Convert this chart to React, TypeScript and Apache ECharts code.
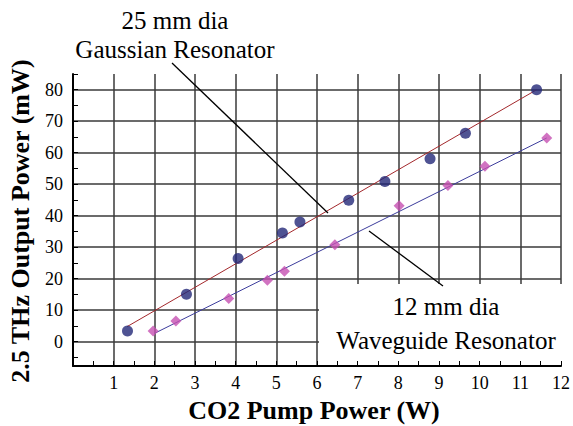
import React, { useEffect, useRef } from "react";
import * as echarts from "echarts";

// 25 mm dia Gaussian resonator (circles)
const gaussX = [1.34, 2.79, 4.06, 5.15, 5.58, 6.78, 7.67, 8.78, 9.65, 11.4];
const gaussY = [3.4, 15.1, 26.4, 34.5, 38.0, 44.9, 50.9, 58.1, 66.2, 80.0];
// 12 mm dia waveguide resonator (diamonds)
const waveX = [1.97, 2.53, 3.83, 4.78, 5.2, 6.44, 8.02, 9.22, 10.13, 11.65];
const waveY = [3.4, 6.6, 13.7, 19.5, 22.4, 30.8, 43.2, 49.6, 55.7, 64.7];
// linear fits (end points)
const gaussFitX = [1.33, 11.4];
const gaussFitY = [4.8, 80.0];
const waveFitX = [2.01, 11.65];
const waveFitY = [2.7, 64.7];

const xMin = 0;
const xMax = 12;
const yMin = -7.7;
const yMax = 85;

const xTitle = "CO2 Pump Power (W)";
const yTitle = "2.5 THz Output Power (mW)";
const topNote = ["25 mm dia", "Gaussian Resonator"];
const bottomNote = ["12 mm dia", "Waveguide Resonator"];

const FONT = "Liberation Serif";

function zip(xs: number[], ys: number[]) {
  return xs.map((x, i) => [x, ys[i]]);
}

function txt(text: string, x: number, y: number, size: number, bold: boolean, rotation = 0) {
  return {
    type: "text",
    z: 6,
    x,
    y,
    rotation,
    style: {
      text,
      fontFamily: FONT,
      fontSize: size,
      fontWeight: bold ? "bold" : "normal",
      fill: "#000",
      textAlign: "center",
      textVerticalAlign: "middle",
    },
  };
}

export default function App() {
  const ref = useRef<HTMLDivElement>(null);
  useEffect(() => {
    if (!ref.current) return;
    const chart = echarts.init(ref.current, null, { renderer: "svg" });
    const gridColor = "#3a3a3a";
    const option: any = {
      animation: false,
      backgroundColor: "#ffffff",
      textStyle: { fontFamily: FONT },
      grid: { left: 73, right: 11, top: 74, bottom: 60, containLabel: false },
      xAxis: [
        {
          type: "value",
          min: xMin,
          max: xMax,
          interval: 1,
          position: "bottom",
          z: 0,
          axisLine: { show: false },
          axisTick: { show: false },
          axisLabel: { show: false },
          splitLine: { show: true, lineStyle: { color: gridColor, width: 1.5 } },
        },
        {
          type: "value",
          min: xMin,
          max: xMax,
          interval: 1,
          position: "bottom",
          offset: 0,
          z: 3,
          axisLine: { show: true, onZero: false, lineStyle: { color: "#000", width: 2 } },
          axisTick: { show: true, inside: true, length: 5, lineStyle: { color: "#000", width: 1 } },
          minorTick: { show: true, splitNumber: 2, length: 5, lineStyle: { color: "#000", width: 1 } },
          axisLabel: {
            show: true,
            margin: 8,
            color: "#000",
            fontFamily: FONT,
            fontSize: 18,
            showMinLabel: false,
            formatter: (v: number) => (v === 0 ? "" : String(v)),
          },
          splitLine: { show: false },
        },
      ],
      yAxis: {
        type: "value",
        min: yMin,
        max: yMax,
        splitNumber: 9,
        z: 0,
        axisLine: { show: true, onZero: false, lineStyle: { color: "#000", width: 2 } },
        axisTick: { show: true, inside: true, length: 5, lineStyle: { color: "#000", width: 1 } },
        minorTick: { show: true, splitNumber: 2, length: 5, lineStyle: { color: "#000", width: 1 } },
        axisLabel: {
          show: true,
          margin: 10,
          color: "#000",
          fontFamily: FONT,
          fontSize: 18,
          showMinLabel: false,
          showMaxLabel: false,
          formatter: (v: number) => (Number.isInteger(v) && v % 10 === 0 ? String(v) : ""),
        },
        splitLine: {
          show: true,
          showMinLine: false,
          showMaxLine: false,
          lineStyle: { color: gridColor, width: 1.5 },
        },
      },
      series: [
        {
          type: "line",
          xAxisIndex: 0,
          data: zip(gaussFitX, gaussFitY),
          showSymbol: false,
          lineStyle: { color: "#a3282c", width: 1 },
          z: 4,
        },
        {
          type: "line",
          xAxisIndex: 0,
          data: zip(waveFitX, waveFitY),
          showSymbol: false,
          lineStyle: { color: "#3c3c9c", width: 1 },
          z: 4,
        },
        {
          type: "scatter",
          xAxisIndex: 0,
          data: zip(gaussX, gaussY),
          symbol: "circle",
          symbolSize: 11,
          itemStyle: { color: "#232878" },
          z: 5,
        },
        {
          type: "scatter",
          xAxisIndex: 0,
          data: zip(waveX, waveY),
          symbol: "diamond",
          symbolSize: [11, 11],
          itemStyle: { color: "#c650b2" },
          z: 5,
        },
      ],
      graphic: [
        {
          type: "rect",
          z: 1,
          shape: { x: 319, y: 284, width: 250, height: 82 },
          style: { fill: "#ffffff" },
        },
        {
          type: "line",
          z: 6,
          shape: { x1: 172, y1: 63, x2: 328, y2: 213 },
          style: { stroke: "#000", lineWidth: 1.3 },
        },
        {
          type: "line",
          z: 6,
          shape: { x1: 369, y1: 231, x2: 443, y2: 286 },
          style: { stroke: "#000", lineWidth: 1.3 },
        },
        txt(topNote[0], 175, 20, 25, false),
        txt(topNote[1], 175, 49, 25, false),
        txt(bottomNote[0], 446, 306, 25, false),
        txt(bottomNote[1], 446, 340, 25, false),
        txt(xTitle, 314, 410, 26, true),
        txt(yTitle, 20, 221, 26, true, Math.PI / 2),
      ],
    };
    chart.setOption(option);
    return () => chart.dispose();
  }, []);
  return (
    <div
      ref={ref}
      style={{ position: "fixed", left: 0, top: 0, width: 573, height: 426, background: "#fff" }}
    />
  );
}
